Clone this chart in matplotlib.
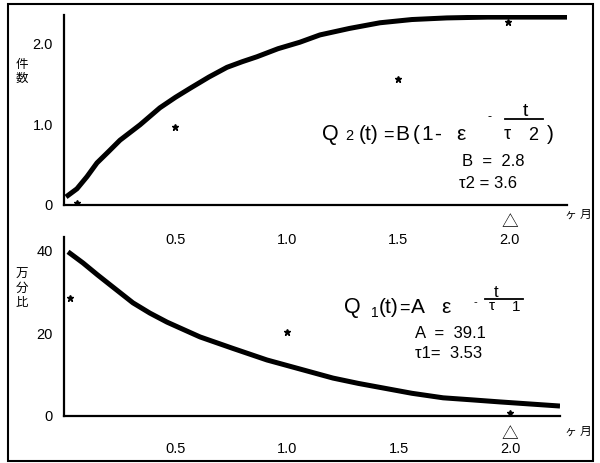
import numpy as np
import matplotlib
matplotlib.use("Agg")
import matplotlib.pyplot as plt
from matplotlib.patches import Rectangle
from matplotlib.lines import Line2D

plt.rcParams['font.family'] = ['Liberation Sans', 'Noto Sans CJK JP', 'DejaVu Sans']

# 上段: 件数 (Q2) の曲線と実測点
t_q2 = [0.009, 0.058, 0.103, 0.148, 0.200, 0.251, 0.341, 0.430, 0.500, 0.565,
        0.650, 0.731, 0.800, 0.865, 0.960, 1.058, 1.148, 1.280, 1.417,
        1.560, 1.717, 1.900, 2.256]
q2 = [0.10, 0.20, 0.35, 0.52, 0.66, 0.80, 0.99, 1.20, 1.33, 1.44,
      1.58, 1.70, 1.77, 1.83, 1.93, 2.01, 2.10, 2.18, 2.25,
      2.29, 2.31, 2.32, 2.32]
t_q2_obs = [0.058, 0.498, 1.50, 1.99]
q2_obs = [0.025, 0.96, 1.56, 2.26]

# 下段: 万分比 (Q1) の曲線と実測点
t_q1 = [0.018, 0.085, 0.150, 0.206, 0.309, 0.385, 0.462, 0.540, 0.610, 0.758,
        0.910, 1.058, 1.206, 1.320, 1.430, 1.560, 1.700, 1.830, 1.955, 2.224]
q1 = [39.8, 37.1, 34.2, 31.8, 27.4, 24.9, 22.7, 20.8, 19.1, 16.3,
      13.5, 11.3, 9.1, 7.8, 6.7, 5.4, 4.3, 3.8, 3.3, 2.3]
t_q1_obs = [0.027, 1.0, 2.0]
q1_obs = [28.5, 20.2, 0.7]

x_ticks = [0.5, 1.0, 1.5, 2.0]
x_ticklabels = ['0.5', '1.0', '1.5', '2.0']
top_yticks = [0, 1.0, 2.0]
top_yticklabels = ['0', '1.0', '2.0']
bot_yticks = [0, 20, 40]
bot_yticklabels = ['0', '20', '40']

W, H = 600, 463
fig = plt.figure(figsize=(6, 4.63), dpi=100)


def fx(x, y):
    # ピクセル座標 -> figure座標
    return x / W, (H - y) / H


def style_axes(ax, yticks, yticklabels, xpad):
    for s in ['top', 'right']:
        ax.spines[s].set_visible(False)
    for s in ['left', 'bottom']:
        ax.spines[s].set_linewidth(1.6)
    ax.set_xticks(x_ticks)
    ax.set_xticklabels(x_ticklabels)
    ax.set_yticks(yticks)
    ax.set_yticklabels(yticklabels)
    ax.tick_params(axis='x', length=0, pad=xpad, labelsize=10.5)
    ax.tick_params(axis='y', length=0, pad=8, labelsize=10.5)
    ax.patch.set_visible(False)


# 上段
ax1 = fig.add_axes([64 / W, (H - 205) / H, 503 / W, 190 / H])
ax1.plot(t_q2, q2, color='black', lw=3.6, solid_capstyle='butt', solid_joinstyle='round')
ax1.plot(t_q2_obs, q2_obs, ls='none', marker='*', ms=5, color='black')
ax1.set_xlim(0, 2.256)
ax1.set_ylim(0, 2.346)
style_axes(ax1, top_yticks, top_yticklabels, 20)
ax1.annotate('△', xy=(2.0, 0), xycoords=('data', 'axes fraction'),
             xytext=(0, -13), textcoords='offset points', ha='center', va='center', fontsize=12)

# 下段
ax2 = fig.add_axes([64 / W, (H - 415.5) / H, 496 / W, 178.5 / H])
ax2.plot(t_q1, q1, color='black', lw=3.6, solid_capstyle='butt', solid_joinstyle='round')
ax2.plot(t_q1_obs, q1_obs, ls='none', marker='*', ms=5, color='black')
ax2.set_xlim(0, 2.224)
ax2.set_ylim(0, 43.4)
style_axes(ax2, bot_yticks, bot_yticklabels, 19)
ax2.annotate('△', xy=(2.0, 0), xycoords=('data', 'axes fraction'),
             xytext=(0, -14), textcoords='offset points', ha='center', va='center', fontsize=12)

# 縦書きのラベル
fig.text(*fx(22, 72), '件\n数', ha='center', va='center', fontsize=9, linespacing=1.3)
fig.text(*fx(22, 289), '万\n分\n比', ha='center', va='center', fontsize=9, linespacing=1.2)
fig.text(*fx(578, 215), 'ヶ 月', ha='center', va='center', fontsize=8.5)
fig.text(*fx(578, 432), 'ヶ 月', ha='center', va='center', fontsize=8.5)

# 式 (上段)
pieces_top = [('Q', 322, 140, 15.5), ('2', 345, 140, 10.5), ('(t)', 359, 140, 15),
              ('=', 383, 140, 13), ('B', 395, 140, 15), ('(', 413, 140, 15),
              ('1', 421, 140, 15), ('-', 434, 140, 15),
              ('ε', 456, 140, 15), ('-', 487, 120, 9), ('t', 523, 116, 14),
              ('τ', 504, 139, 13), ('2', 528, 140, 13), (')', 547, 140, 15)]
for s, x, y, size in pieces_top:
    fig.text(*fx(x, y), s, ha='left', va='baseline', fontsize=size)
fig.add_artist(Line2D([505 / W, 543 / W], [(H - 119) / H] * 2, color='black', lw=1.3))
fig.text(*fx(462, 166), 'B  =  2.8', ha='left', va='baseline', fontsize=12)
fig.text(*fx(459, 188), 'τ2 = 3.6', ha='left', va='baseline', fontsize=12)

# 式 (下段)
pieces_bot = [('Q', 344, 313, 15.5), ('1', 371, 317, 10), ('(t)', 379, 313, 15),
              ('=', 399, 313, 13), ('A', 411, 313, 15), ('ε', 441, 313, 15),
              ('-', 474, 305, 8), ('t', 494, 297, 12),
              ('τ', 489, 310, 11), ('1', 512, 311, 11)]
for s, x, y, size in pieces_bot:
    fig.text(*fx(x, y), s, ha='left', va='baseline', fontsize=size)
fig.add_artist(Line2D([485 / W, 523 / W], [(H - 299) / H] * 2, color='black', lw=1.3))
fig.text(*fx(415, 338), 'A  =  39.1', ha='left', va='baseline', fontsize=12)
fig.text(*fx(415, 358), 'τ1=  3.53', ha='left', va='baseline', fontsize=12)

# 外枠
fig.add_artist(Rectangle(fx(8, 461), 585 / W, 457 / H, fill=False, lw=1.5,
                         edgecolor='black', transform=fig.transFigure))

fig.savefig('out.png', dpi=100)
